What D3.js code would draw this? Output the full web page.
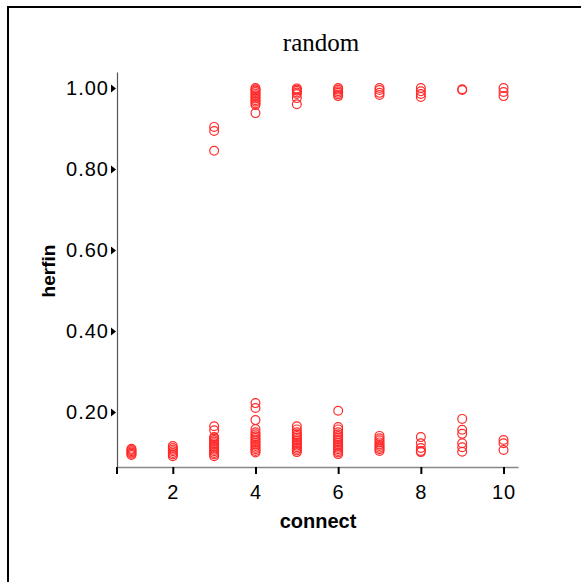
<!DOCTYPE html>
<html><head><meta charset="utf-8">
<script src="https://cdn.jsdelivr.net/npm/d3@7"></script>
<style>body{margin:0;background:#fff}svg{display:block}</style>
</head><body><svg id="c" width="581" height="582"></svg>
<script>
const title = "random";
const xLabel = "connect";
const yLabel = "herfin";
const xTicks = [2, 4, 6, 8, 10];
const yTicks = [0.20, 0.40, 0.60, 0.80, 1.00];
const connect = [1, 2, 3, 4, 5, 6, 7, 8, 9, 10];
const herfinLow = [
  [0.094, 0.097, 0.100, 0.103, 0.106, 0.109],
  [0.091, 0.095, 0.099, 0.103, 0.107, 0.111, 0.116],
  [0.091, 0.095, 0.099, 0.103, 0.107, 0.111, 0.115, 0.119, 0.123, 0.127, 0.131, 0.135, 0.138, 0.155, 0.165],
  [0.100, 0.104, 0.108, 0.112, 0.116, 0.120, 0.124, 0.128, 0.132, 0.136, 0.140, 0.145, 0.150, 0.158, 0.180, 0.210, 0.222],
  [0.101, 0.105, 0.109, 0.113, 0.117, 0.121, 0.125, 0.129, 0.133, 0.137, 0.141, 0.145, 0.150, 0.157, 0.165],
  [0.096, 0.100, 0.104, 0.108, 0.112, 0.116, 0.120, 0.124, 0.128, 0.132, 0.136, 0.140, 0.145, 0.150, 0.157, 0.163, 0.203],
  [0.104, 0.108, 0.112, 0.116, 0.120, 0.125, 0.130, 0.135, 0.141],
  [0.101, 0.104, 0.111, 0.123, 0.138],
  [0.102, 0.113, 0.123, 0.146, 0.156, 0.183],
  [0.106, 0.123, 0.131]
];
const herfinHigh = [
  [],
  [],
  [0.845, 0.894, 0.904],
  [0.938, 0.958, 0.962, 0.966, 0.970, 0.974, 0.978, 0.982, 0.986, 0.990, 0.994, 0.997, 1.000],
  [0.960, 0.975, 0.985, 0.989, 0.993, 0.996, 0.999],
  [0.980, 0.984, 0.988, 0.992, 0.996, 1.000],
  [0.983, 0.988, 0.995, 1.000],
  [0.978, 0.985, 0.992, 1.000],
  [0.995, 0.997],
  [0.980, 0.990, 1.000]
];

const svg = d3.select("#c");
// frame
svg.append("path").attr("d", "M8,582 V7 H581").attr("fill", "none").attr("stroke", "#000").attr("stroke-width", 2);

const x = d3.scaleLinear().domain([0.65, 10.35]).range([117, 518]);
const y = d3.scaleLinear().domain([0.0642, 1.0395]).range([467, 72]);

svg.append("text").attr("x", 321).attr("y", 51).attr("text-anchor", "middle")
  .attr("font-family", "Liberation Serif, serif").attr("font-size", 25).text(title);

const sans = "Liberation Sans, Arial, sans-serif";
// x axis
const xa = svg.append("g").attr("transform", "translate(0,467)")
  .call(d3.axisBottom(x).tickValues(xTicks).tickFormat(d3.format("d")).tickSize(7).tickSizeOuter(0));
xa.select(".domain").attr("stroke", "#888").attr("stroke-width", 1.5);
xa.selectAll(".tick line").attr("stroke", "#000").attr("stroke-width", 2);
xa.selectAll(".tick text").attr("font-family", sans).attr("font-size", 20).attr("letter-spacing", 1).attr("fill", "#000").attr("y", 10).attr("dy", 22);
xa.append("line").attr("x1", x(0.65)).attr("x2", x(0.65)).attr("y1", 0).attr("y2", 7).attr("stroke", "#000").attr("stroke-width", 2);

// y axis
const ya = svg.append("g").attr("transform", "translate(117,0)")
  .call(d3.axisLeft(y).tickValues(yTicks).tickFormat(d3.format(".2f")).tickSize(0).tickPadding(8).tickSizeOuter(0));
ya.select(".domain").attr("stroke", "#555").attr("stroke-width", 1.2);
ya.selectAll(".tick text").attr("font-family", sans).attr("font-size", 20).attr("letter-spacing", 1).attr("fill", "#000");
ya.selectAll(".tick").append("path").attr("d", "M-6,-4 L-1,0 L-6,4 Z").attr("fill", "#000");

svg.append("text").attr("x", 318).attr("y", 528).attr("text-anchor", "middle")
  .attr("font-family", sans).attr("font-weight", "bold").attr("font-size", 20).text(xLabel);
svg.append("text").attr("transform", "translate(55,271) rotate(-90)").attr("text-anchor", "middle")
  .attr("font-family", sans).attr("font-weight", "bold").attr("font-size", 19).text(yLabel);

const pts = [];
connect.forEach((c, i) => {
  herfinLow[i].forEach(v => pts.push({c, v}));
  herfinHigh[i].forEach(v => pts.push({c, v}));
});
svg.append("g").selectAll("circle").data(pts).join("circle")
  .attr("cx", d => x(d.c)).attr("cy", d => y(d.v)).attr("r", 4.4)
  .attr("fill", "none").attr("stroke", "#ff2a2a").attr("stroke-width", 1.2);
</script></body></html>
